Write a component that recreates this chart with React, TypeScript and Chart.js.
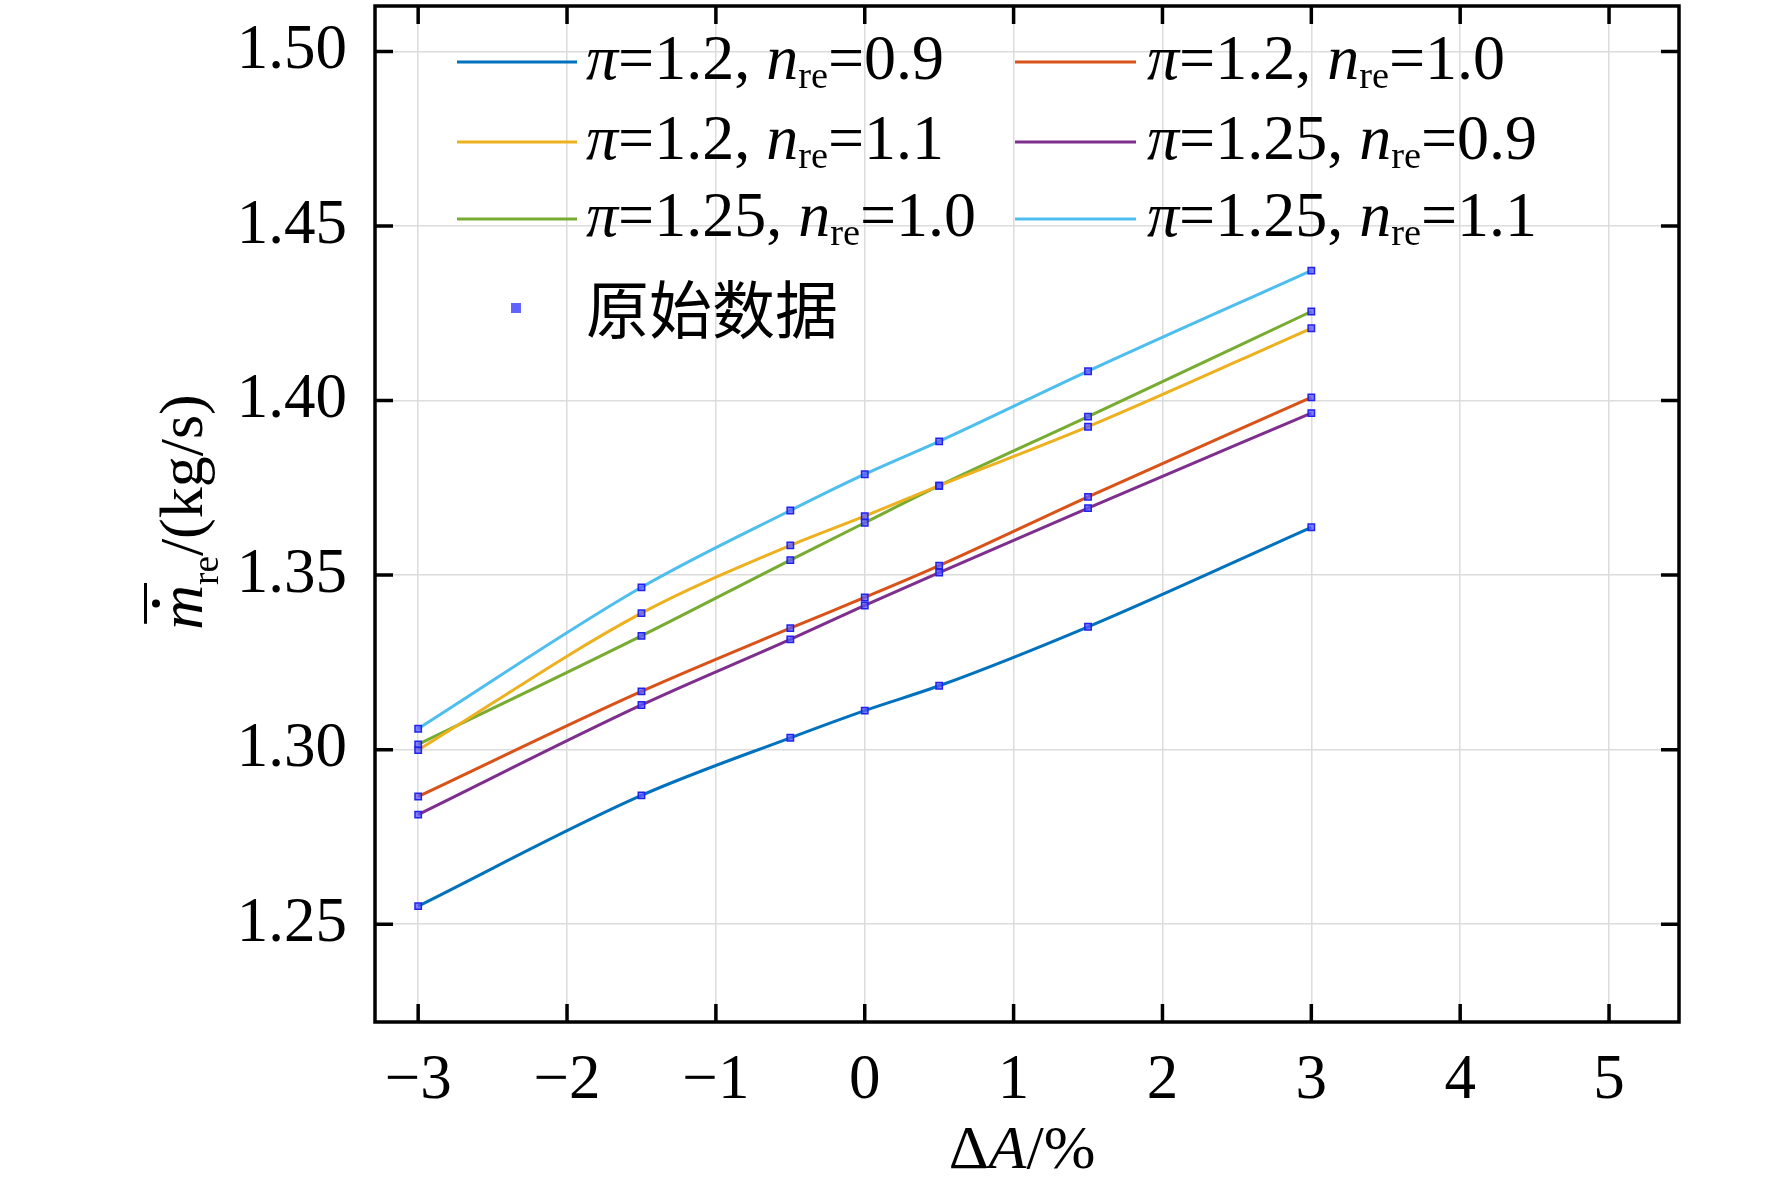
import React, { useEffect, useRef } from "react";
import { Chart, registerables } from "chart.js";
Chart.register(...registerables);

const xValues = [-3, -1.5, -0.5, 0, 0.5, 1.5, 3];
const s1 = [1.2552, 1.2869, 1.3034, 1.3112, 1.3183, 1.3352, 1.3637];
const s2 = [1.2866, 1.3167, 1.3348, 1.3436, 1.3527, 1.3724, 1.4009];
const s3 = [1.2999, 1.3391, 1.3585, 1.3669, 1.3756, 1.3925, 1.4207];
const s4 = [1.2814, 1.3128, 1.3316, 1.3413, 1.3507, 1.3692, 1.3964];
const s5 = [1.3015, 1.3326, 1.3543, 1.365, 1.3756, 1.3954, 1.4255];
const s6 = [1.306, 1.3465, 1.3685, 1.3789, 1.3883, 1.4084, 1.4372];
const seriesValues = [s1, s2, s3, s4, s5, s6];
const seriesPi = ["1.2", "1.2", "1.2", "1.25", "1.25", "1.25"];
const seriesN = ["0.9", "1.0", "1.1", "0.9", "1.0", "1.1"];
const colors = ["#0072BD", "#D95319", "#EDB120", "#7E2F8E", "#77AC30", "#4DBEEE"];
const xTicks = [-3, -2, -1, 0, 1, 2, 3, 4, 5];
const yTicks = [1.25, 1.3, 1.35, 1.4, 1.45, 1.5];
const rawLabel = "原始数据";

const SERIF = "'Liberation Serif', 'DejaVu Serif', serif";
type Seg = { t: string; it?: boolean; sub?: boolean; font?: string };

function drawRich(ctx: CanvasRenderingContext2D, segs: Seg[], x: number, y: number, size: number) {
  let cx = x;
  for (const s of segs) {
    const sz = s.sub ? size * 0.6 : size;
    ctx.font = `${s.it ? "italic " : ""}${sz}px ${s.font || SERIF}`;
    ctx.fillText(s.t, cx, s.sub ? y + size * 0.25 : y);
    cx += ctx.measureText(s.t).width;
  }
  return cx - x;
}
function richWidth(ctx: CanvasRenderingContext2D, segs: Seg[], size: number) {
  let w = 0;
  for (const s of segs) {
    const sz = s.sub ? size * 0.6 : size;
    ctx.font = `${s.it ? "italic " : ""}${sz}px ${s.font || SERIF}`;
    w += ctx.measureText(s.t).width;
  }
  return w;
}

const decor = {
  id: "decor",
  afterDraw(chart: any) {
    const ctx: CanvasRenderingContext2D = chart.ctx;
    const a = chart.chartArea;
    const xs = chart.scales.x, ys = chart.scales.y;
    ctx.save();
    ctx.strokeStyle = "#000";
    ctx.lineWidth = 3.5;
    const L = 18;
    ctx.beginPath();
    for (const v of xTicks) {
      const px = xs.getPixelForValue(v);
      ctx.moveTo(px, a.bottom); ctx.lineTo(px, a.bottom - L);
      ctx.moveTo(px, a.top); ctx.lineTo(px, a.top + L);
    }
    for (const v of yTicks) {
      const py = ys.getPixelForValue(v);
      ctx.moveTo(a.left, py); ctx.lineTo(a.left + L, py);
      ctx.moveTo(a.right, py); ctx.lineTo(a.right - L, py);
    }
    ctx.stroke();
    ctx.strokeRect(a.left, a.top, a.right - a.left, a.bottom - a.top);

    // legend
    ctx.fillStyle = "#000";
    ctx.textBaseline = "middle";
    const size = 64;
    const rowsY = [62, 142, 219];
    const cols = [{ l0: 457, l1: 577, t: 586 }, { l0: 1015, l1: 1136, t: 1147 }];
    for (let i = 0; i < 6; i++) {
      const c = cols[i % 2], yy = rowsY[Math.floor(i / 2)];
      ctx.strokeStyle = colors[i];
      ctx.lineWidth = 3;
      ctx.beginPath(); ctx.moveTo(c.l0, yy); ctx.lineTo(c.l1, yy); ctx.stroke();
      ctx.fillStyle = "#000";
      drawRich(ctx, [
        { t: "π", it: true }, { t: "=" + seriesPi[i] + ", " }, { t: "n", it: true },
        { t: "re", sub: true }, { t: "=" + seriesN[i] },
      ], c.t, yy, size);
    }
    ctx.fillStyle = "rgba(70,70,255,0.85)";
    ctx.fillRect(511, 303, 10, 10);
    ctx.fillStyle = "#000";
    ctx.font = `63px 'Noto Sans CJK SC', sans-serif`;
    ctx.fillText(rawLabel, 586, 309);

    // x title
    ctx.textBaseline = "alphabetic";
    const xt: Seg[] = [{ t: "Δ" }, { t: "A", it: true }, { t: "/%" }];
    const w = richWidth(ctx, xt, 62);
    drawRich(ctx, xt, (a.left + a.right) / 2 - w / 2 - 5, 1168, 62);

    // y title
    ctx.translate(202, 512);
    ctx.rotate(-Math.PI / 2);
    const yt: Seg[] = [{ t: "m", it: true }, { t: "re", sub: true }, { t: "/(kg/s)" }];
    const yw = richWidth(ctx, yt, 62);
    const x0 = -yw / 2;
    drawRich(ctx, yt, x0, 0, 62);
    ctx.font = `italic 62px ${SERIF}`;
    const mw = ctx.measureText("m").width;
    ctx.fillRect(x0 + 6, -58, mw - 4, 3);
    ctx.beginPath(); ctx.arc(x0 + mw / 2 + 4, -46, 4, 0, Math.PI * 2); ctx.fill();
    ctx.restore();
  },
};

export default function App() {
  const ref = useRef<HTMLCanvasElement>(null);
  useEffect(() => {
    const datasets: any[] = seriesValues.map((vals, i) => ({
      label: `s${i}`,
      data: xValues.map((x, j) => ({ x, y: vals[j] })),
      borderColor: colors[i],
      borderWidth: 3,
      pointRadius: 0,
      tension: 0.3,
      cubicInterpolationMode: "monotone",
      showLine: true,
      order: 2,
    }));
    datasets.push({
      label: rawLabel,
      data: seriesValues.flatMap((vals) => xValues.map((x, j) => ({ x, y: vals[j] }))),
      showLine: false,
      pointStyle: "rect",
      pointRadius: 4.5,
      backgroundColor: "rgba(90,90,255,0.75)",
      borderColor: "#2222ee",
      borderWidth: 1.5,
      order: 1,
    });
    const chart = new Chart(ref.current!, {
      type: "scatter",
      data: { datasets },
      options: {
        animation: false,
        responsive: false,
        layout: { padding: { top: 2, right: 93, left: 0, bottom: 0 } },
        plugins: { legend: { display: false }, tooltip: { enabled: false } },
        scales: {
          x: {
            type: "linear", min: -3.29, max: 5.47,
            afterBuildTicks: (s: any) => { s.ticks = xTicks.map((v) => ({ value: v })); },
            afterFit: (s: any) => { s.height = 163; s.paddingLeft = 0; s.paddingRight = 0; },
            grid: { color: "#dcdcdc", lineWidth: 1.5, drawTicks: false },
            border: { display: false },
            ticks: {
              padding: 22, color: "#000",
              font: { family: SERIF, size: 63 },
              callback: (v: any) => (v < 0 ? "−" + Math.abs(v) : String(v)),
            },
          },
          y: {
            type: "linear", min: 1.222, max: 1.513,
            afterBuildTicks: (s: any) => { s.ticks = yTicks.map((v) => ({ value: v })); },
            afterFit: (s: any) => { s.width = 375; s.paddingTop = 0; s.paddingBottom = 0; },
            grid: { color: "#dcdcdc", lineWidth: 1.5, drawTicks: false },
            border: { display: false },
            ticks: {
              padding: 28, color: "#000",
              font: { family: SERIF, size: 63 },
              callback: (v: any) => Number(v).toFixed(2),
            },
          },
        },
      },
      plugins: [decor],
    });
    return () => chart.destroy();
  }, []);
  return (
    <canvas ref={ref} width={1772} height={1185}
      style={{ position: "absolute", left: 0, top: 0, width: 1772, height: 1185, background: "#fff" }} />
  );
}
